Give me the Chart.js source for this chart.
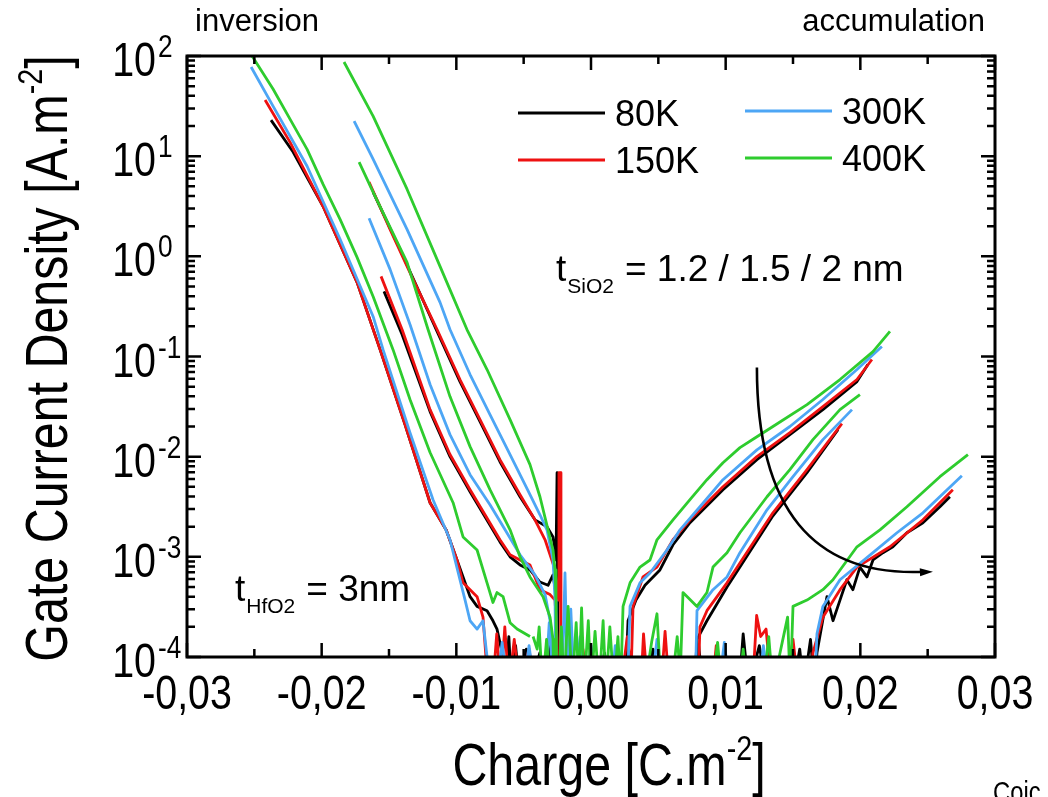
<!DOCTYPE html>
<html>
<head>
<meta charset="utf-8">
<script src="https://cdn.jsdelivr.net/npm/chart.js@4.4.1/dist/chart.umd.min.js"></script>
<style>
  html, body { margin: 0; padding: 0; background: #fff; }
</style>
</head>
<body>
<canvas id="myChart" width="1048" height="797"></canvas>
<script>
// Temperaturas da legenda
const temps = ['80K', '150K', '300K', '400K'];

// Rótulos dos eixos
const xTickValues = [-0.03, -0.02, -0.01, 0, 0.01, 0.02, 0.03];
const xTickLabels = ['-0,03', '-0,02', '-0,01', '0,00', '0,01', '0,02', '0,03'];
const xMinorValues = [-0.025, -0.015, -0.005, 0.005, 0.015, 0.025];
const yTickValues = [1e2, 1e1, 1e0, 1e-1, 1e-2, 1e-3, 1e-4];
const yTickExps = ['2', '1', '0', '-1', '-2', '-3', '-4'];

// Inversão (carga negativa) - grupo A, B, C  [carga, densidade]
const invA_80 = [[-0.02376,22.9],[-0.02212,11.0],[-0.01990,3.16],[-0.01737,0.550],[-0.01566,0.117],[-0.01381,0.0209],[-0.01195,0.00347],[-0.01076,0.00186],[-0.00995,9.3e-4],[-0.00898,4.0e-4],[-0.00846,3.2e-4],[-0.00772,2.9e-4],[-0.00728,2.3e-4],[-0.00698,1.9e-4],[-0.00653,1.0e-4],[-0.00630,5e-5]];
const invA_150 = [[-0.02420,36.3],[-0.02235,13.8],[-0.01990,3.16],[-0.01737,0.550],[-0.01566,0.117],[-0.01381,0.0209],[-0.01195,0.00347],[-0.01076,0.00186],[-0.00995,9.3e-4],[-0.00950,5.5e-4],[-0.00898,4.7e-4],[-0.00846,4.0e-4],[-0.00802,2.5e-4],[-0.00780,1.0e-4],[-0.00770,5e-5]];
const invA_300 = [[-0.02524,77.6],[-0.02361,31.6],[-0.02108,7.94],[-0.01863,1.48],[-0.01618,0.251],[-0.01544,0.117],[-0.01344,0.0174],[-0.01173,0.00372],[-0.01047,0.00148],[-0.00973,5.9e-4],[-0.00935,3.7e-4],[-0.00898,2.3e-4],[-0.00846,1.9e-4],[-0.00802,2.3e-4],[-0.00772,1.0e-4],[-0.00760,5e-5]];
const invA_400 = [[-0.02517,100],[-0.02361,46.8],[-0.02235,23.4],[-0.02108,11.7],[-0.01990,5.25],[-0.01863,2.34],[-0.01737,0.977],[-0.01618,0.398],[-0.01470,0.117],[-0.01344,0.0372],[-0.01195,0.0110],[-0.01024,0.00347],[-0.00950,0.00158],[-0.00846,0.00117],[-0.00772,5.5e-4],[-0.00728,3.5e-4],[-0.00698,4.4e-4],[-0.00653,4.0e-4],[-0.00601,2.2e-4],[-0.00549,1.9e-4],[-0.00453,1.6e-4]];

const invB_80 = [[-0.01537,0.447],[-0.01403,0.166],[-0.01195,0.0282],[-0.01047,0.0100],[-0.00898,0.00447],[-0.00787,0.00251],[-0.00676,0.00141],[-0.00601,0.00100],[-0.00527,8.3e-4],[-0.00453,7.4e-4],[-0.00379,5.6e-4],[-0.00319,5.2e-4],[-0.00282,6.6e-4],[-0.00260,4.2e-4],[-0.00252,1.3e-4],[-0.00248,5e-5]];
const invB_150 = [[-0.01559,0.631],[-0.01403,0.186],[-0.01195,0.0295],[-0.01047,0.0105],[-0.00898,0.00468],[-0.00787,0.00263],[-0.00676,0.00148],[-0.00601,0.00105],[-0.00527,9.3e-4],[-0.00453,8.3e-4],[-0.00379,4.7e-4],[-0.00304,4.2e-4],[-0.00267,3.7e-4],[-0.00252,1.5e-4],[-0.00245,5e-5]];
const invB_300 = [[-0.01648,2.40],[-0.01492,0.741],[-0.01344,0.209],[-0.01195,0.0525],[-0.01047,0.0166],[-0.00898,0.00661],[-0.00750,0.00331],[-0.00638,0.00186],[-0.00527,0.00105],[-0.00416,6.6e-4],[-0.00341,4.2e-4],[-0.00304,2.3e-4],[-0.00282,1.3e-4],[-0.00275,5e-5]];
const invB_400 = [[-0.01722,8.71],[-0.01618,4.37],[-0.01366,0.871],[-0.01210,0.186],[-0.01047,0.0398],[-0.00898,0.0126],[-0.00750,0.00468],[-0.00601,0.00186],[-0.00527,0.00100],[-0.00453,6.3e-4],[-0.00356,4.0e-4],[-0.00304,2.5e-4],[-0.00282,1.5e-4],[-0.00275,5e-5]];

const invC_80 = [[-0.01618,4.37],[-0.01418,1.17],[-0.01143,0.178],[-0.00973,0.0562],[-0.00824,0.0224],[-0.00676,0.00891],[-0.00527,0.00398],[-0.00416,0.00234],[-0.00327,0.00200],[-0.00282,0.00158],[-0.00267,0.00117],[-0.00260,9.3e-4],[-0.00252,0.00692],[-0.00245,5e-5]];
const invC_150 = [[-0.01648,5.50],[-0.01492,1.86],[-0.01321,0.589],[-0.01143,0.186],[-0.00973,0.0589],[-0.00824,0.0234],[-0.00676,0.00933],[-0.00527,0.00417],[-0.00416,0.00234],[-0.00341,0.00148],[-0.00304,0.00105],[-0.00267,7.4e-4],[-0.00245,3.7e-4],[-0.00238,0.00692],[-0.00230,0.00692],[-0.00223,5e-5]];
const invC_300 = [[-0.01759,22.4],[-0.01618,9.33],[-0.01366,1.86],[-0.01121,0.347],[-0.01047,0.186],[-0.00898,0.0661],[-0.00750,0.0263],[-0.00601,0.0105],[-0.00453,0.00417],[-0.00379,0.00263],[-0.00327,0.00186],[-0.00282,9.3e-4],[-0.00267,3.7e-4],[-0.00260,5e-5]];
const invC_400 = [[-0.01834,87.1],[-0.01618,25.1],[-0.01366,4.68],[-0.01121,0.794],[-0.00921,0.186],[-0.00772,0.0741],[-0.00601,0.0234],[-0.00453,0.00832],[-0.00379,0.00398],[-0.00319,0.00186],[-0.00282,0.00117],[-0.00267,7.4e-4],[-0.00260,3.7e-4],[-0.00255,5e-5]];

// Ruído no nível de fundo
const floor_80 = [[-0.00640,5e-5],[-0.00610,1.6e-4],[-0.00590,5e-5],[-0.00560,1.3e-4],[-0.00530,5e-5],[-0.00480,1.2e-4],[-0.00450,5e-5],[-0.00380,1.1e-4],[-0.00350,5e-5],[-0.00300,1.4e-4],[-0.00270,5e-5],[-0.00200,5e-5],[-0.00170,1.1e-4],[-0.00140,5e-5],[0.00050,5e-5],[0.00100,1.1e-4],[0.00140,5e-5],[0.00400,5e-5],[0.00460,1.2e-4],[0.00500,5e-5],[0.00750,5e-5],[0.00800,1.3e-4],[0.00830,5e-5],[0.01100,5e-5],[0.01130,1.7e-4],[0.01170,5e-5],[0.01250,1.3e-4],[0.01300,5e-5],[0.01500,5e-5],[0.01550,1.2e-4],[0.01580,5e-5],[0.01630,1.5e-4],[0.01660,5e-5]];
const floor_150 = [[-0.00730,5e-5],[-0.00700,1.7e-4],[-0.00670,5e-5],[-0.00640,2.0e-4],[-0.00610,5e-5],[-0.00570,1.5e-4],[-0.00530,5e-5],[-0.00460,1.2e-4],[-0.00420,5e-5],[-0.00200,5e-5],[-0.00160,1.4e-4],[-0.00120,5e-5],[-0.00060,1.2e-4],[-0.00020,5e-5],[0.00220,5e-5],[0.00270,1.6e-4],[0.00310,5e-5],[0.00370,5e-5],[0.00390,1.7e-4],[0.00420,5e-5],[0.00520,5e-5],[0.00550,1.8e-4],[0.00580,5e-5],[0.00900,5e-5],[0.00930,1.3e-4],[0.00960,5e-5],[0.01200,5e-5],[0.01230,2.6e-4],[0.01260,1.6e-4],[0.01300,1.9e-4],[0.01340,5e-5],[0.01460,5e-5],[0.01500,1.5e-4],[0.01540,5e-5]];
const floor_300 = [[-0.00700,5e-5],[-0.00660,1.4e-4],[-0.00620,5e-5],[-0.00500,5e-5],[-0.00460,1.3e-4],[-0.00420,5e-5],[-0.00340,5e-5],[-0.00310,2.2e-4],[-0.00280,5e-5],[-0.00215,5e-5],[-0.00193,6.9e-4],[-0.00175,5e-5],[-0.00150,3.0e-4],[-0.00125,5e-5],[-0.00080,1.6e-4],[-0.00040,5e-5],[0.00000,1.3e-4],[0.00040,5e-5],[0.00150,5e-5],[0.00180,1.3e-4],[0.00210,5e-5],[0.00450,5e-5],[0.00490,1.5e-4],[0.00520,5e-5],[0.00950,5e-5],[0.00990,1.4e-4],[0.01030,5e-5],[0.01250,5e-5],[0.01280,1.3e-4],[0.01320,5e-5]];
const floor_400 = [[-0.00430,1.6e-4],[-0.00400,1.2e-4],[-0.00385,2.0e-4],[-0.00360,5e-5],[-0.00330,1.5e-4],[-0.00300,5e-5],[-0.00240,5e-5],[-0.00220,2.0e-4],[-0.00200,5e-5],[-0.00170,3.2e-4],[-0.00140,5e-5],[-0.00110,2.2e-4],[-0.00090,5e-5],[-0.00070,3.1e-4],[-0.00050,5e-5],[-0.00020,2.3e-4],[0.00000,5e-5],[0.00030,1.8e-4],[0.00060,5e-5],[0.00090,2.3e-4],[0.00110,5e-5],[0.00140,2.0e-4],[0.00170,5e-5],[0.00200,1.6e-4],[0.00220,5e-5],[0.00400,5e-5],[0.00450,1.4e-4],[0.00490,2.7e-4],[0.00520,5e-5],[0.00600,5e-5],[0.00640,1.6e-4],[0.00670,5e-5],[0.00900,5e-5],[0.00940,1.4e-4],[0.00970,5e-5],[0.01100,5e-5],[0.01130,1.2e-4],[0.01160,5e-5],[0.01280,5e-5],[0.01320,1.6e-4],[0.01350,5e-5],[0.01420,1.4e-4],[0.01460,2.5e-4],[0.01480,5e-5]];

// Acumulação (carga positiva) - grupo D, E, F
const accD_80 = [[0.00255,5e-5],[0.00275,2.3e-4],[0.00334,3.7e-4],[0.00401,5.2e-4],[0.00512,7.4e-4],[0.00609,0.00132],[0.00735,0.00219],[0.00980,0.00468],[0.01232,0.00933],[0.01477,0.0166],[0.01722,0.0295],[0.01975,0.0562],[0.02056,0.0832]];
const accD_150 = [[0.00295,5e-5],[0.00312,3.2e-4],[0.00386,6.3e-4],[0.00490,7.9e-4],[0.00609,0.00148],[0.00735,0.00234],[0.00980,0.00501],[0.01232,0.0100],[0.01477,0.0174],[0.01722,0.0316],[0.01975,0.0589],[0.02086,0.0933]];
const accD_300 = [[0.00270,5e-5],[0.00290,3.2e-4],[0.00364,5.5e-4],[0.00438,6.9e-4],[0.00564,0.00117],[0.00661,0.00186],[0.00809,0.00316],[0.00980,0.00589],[0.01232,0.0117],[0.01477,0.0200],[0.01722,0.0372],[0.01975,0.0741],[0.02160,0.126]];
const accD_400 = [[0.00220,5e-5],[0.00238,3.2e-4],[0.00290,5.5e-4],[0.00364,7.9e-4],[0.00438,9.3e-4],[0.00490,0.00148],[0.00609,0.00234],[0.00735,0.00372],[0.00861,0.00589],[0.00980,0.00871],[0.01106,0.0123],[0.01232,0.0158],[0.01351,0.0200],[0.01604,0.0331],[0.01849,0.0589],[0.02094,0.112],[0.02220,0.178]];

const accE_80 = [[0.00770,5e-5],[0.00787,1.5e-4],[0.00861,2.3e-4],[0.01010,5.0e-4],[0.01106,7.9e-4],[0.01351,0.00257],[0.01604,0.00692],[0.01834,0.0186]];
const accE_150 = [[0.00795,5e-5],[0.00809,2.0e-4],[0.00861,2.9e-4],[0.01010,5.5e-4],[0.01106,8.7e-4],[0.01351,0.00275],[0.01604,0.00741],[0.01863,0.0214]];
const accE_300 = [[0.00775,5e-5],[0.00787,2.9e-4],[0.00906,4.7e-4],[0.01010,6.3e-4],[0.01106,0.00110],[0.01307,0.00295],[0.01500,0.00631],[0.01722,0.0148],[0.01938,0.0295]];
const accE_400 = [[0.00660,5e-5],[0.00683,4.4e-4],[0.00787,3.2e-4],[0.00861,4.4e-4],[0.00906,7.9e-4],[0.01010,0.00110],[0.01106,0.00174],[0.01307,0.00398],[0.01477,0.00741],[0.01648,0.0148],[0.01849,0.0295],[0.01997,0.0417]];

const accF_80 = [[0.01660,5e-5],[0.01678,1.1e-4],[0.01752,4.0e-4],[0.01797,2.3e-4],[0.01849,3.7e-4],[0.01900,5.9e-4],[0.01945,4.7e-4],[0.01997,7.9e-4],[0.02049,6.3e-4],[0.02094,9.3e-4],[0.02168,0.00110],[0.02242,0.00126],[0.02346,0.00174],[0.02465,0.00219],[0.02591,0.00316],[0.02665,0.00398]];
const accF_150 = [[0.01630,5e-5],[0.01648,1.1e-4],[0.01722,2.5e-4],[0.01849,4.7e-4],[0.01975,7.9e-4],[0.02220,0.00126],[0.02465,0.00234],[0.02687,0.00468]];
const accF_300 = [[0.01660,5e-5],[0.01678,1.7e-4],[0.01722,3.2e-4],[0.01849,5.9e-4],[0.02094,0.00110],[0.02272,0.00174],[0.02465,0.00275],[0.02754,0.00646]];
const accF_400 = [[0.01480,5e-5],[0.01500,3.2e-4],[0.01604,3.7e-4],[0.01722,4.7e-4],[0.01797,5.9e-4],[0.01975,0.00126],[0.02146,0.00186],[0.02346,0.00316],[0.02591,0.00631],[0.02799,0.0105]];

// Seta curva (início, controle, fim) em coordenadas de dados
const arrowStart = [0.01232, 0.0776];
const arrowCtrl = [0.01232, 5.9e-4];
const arrowEnd = [0.02539, 7.1e-4];

const segmentsByTemp = [
  [invA_80, invB_80, invC_80, floor_80, accD_80, accE_80, accF_80],
  [invA_150, invB_150, invC_150, floor_150, accD_150, accE_150, accF_150],
  [invA_300, invB_300, invC_300, floor_300, accD_300, accE_300, accF_300],
  [invA_400, invB_400, invC_400, floor_400, accD_400, accE_400, accF_400]
];

const colors = ['#000000', '#ee1111', '#4da6f5', '#2ecc2e'];
const SANS = '"Liberation Sans", Arial, sans-serif';
const NARROW = 0.82; // compressão horizontal (aspecto de Arial Narrow)

// Junta os segmentos com uma lacuna entre eles
function joinSegments(segs) {
  const out = [];
  segs.forEach(function(seg, i) {
    if (i > 0) out.push({ x: seg[0][0], y: null });
    seg.forEach(function(p) { out.push({ x: p[0], y: p[1] }); });
  });
  return out;
}

const datasets = temps.map(function(t, i) {
  return {
    label: t,
    data: joinSegments(segmentsByTemp[i]),
    borderColor: colors[i],
    backgroundColor: colors[i],
    borderWidth: 2.8,
    borderJoinStyle: 'round',
    pointRadius: 0,
    pointHitRadius: 0,
    spanGaps: false,
    tension: 0,
    order: 4 - i
  };
});

// texto estreito
function narrowText(ctx, text, x, y, size, align) {
  ctx.save();
  ctx.translate(x, y);
  ctx.scale(NARROW, 1);
  ctx.font = size + 'px ' + SANS;
  ctx.textAlign = align;
  ctx.fillText(text, 0, 0);
  ctx.restore();
}

// texto com expoente (estreito)
function supText(ctx, x, y, base, sup, tail, size, supSize, align) {
  ctx.save();
  ctx.translate(x, y);
  ctx.scale(NARROW, 1);
  ctx.font = size + 'px ' + SANS;
  const w1 = ctx.measureText(base).width;
  const w3 = ctx.measureText(tail).width;
  ctx.font = supSize + 'px ' + SANS;
  const w2 = ctx.measureText(sup).width;
  const total = w1 + w2 + w3;
  let x0 = 0;
  if (align === 'center') x0 = -total / 2;
  ctx.textAlign = 'left';
  ctx.font = size + 'px ' + SANS;
  ctx.fillText(base, x0, 0);
  ctx.font = supSize + 'px ' + SANS;
  ctx.fillText(sup, x0 + w1, -size * 0.42);
  ctx.font = size + 'px ' + SANS;
  ctx.fillText(tail, x0 + w1 + w2, 0);
  ctx.restore();
}

// texto com índice
function subText(ctx, x, y, base, sub, tail, size, subSize) {
  ctx.textAlign = 'left';
  ctx.font = size + 'px ' + SANS;
  ctx.fillText(base, x, y);
  const w1 = ctx.measureText(base).width;
  ctx.font = subSize + 'px ' + SANS;
  ctx.fillText(sub, x + w1 + 1, y + 12);
  const w2 = ctx.measureText(sub).width;
  ctx.font = size + 'px ' + SANS;
  ctx.fillText(tail, x + w1 + w2 + 12, y);
}

const decor = {
  id: 'decor',
  afterDatasetsDraw(chart) {
    const ctx = chart.ctx;
    const a = chart.chartArea;
    const xs = chart.scales.x;
    const ys = chart.scales.y;
    ctx.save();
    ctx.fillStyle = '#000';
    ctx.strokeStyle = '#000';

    // seta curva
    const sx = xs.getPixelForValue(arrowStart[0]), sy = ys.getPixelForValue(arrowStart[1]);
    const cx = xs.getPixelForValue(arrowCtrl[0]), cy = ys.getPixelForValue(arrowCtrl[1]);
    const ex = xs.getPixelForValue(arrowEnd[0]), ey = ys.getPixelForValue(arrowEnd[1]);
    ctx.lineWidth = 2.6;
    ctx.beginPath();
    ctx.moveTo(sx, sy);
    ctx.quadraticCurveTo(cx, cy, ex - 8, ey);
    ctx.stroke();
    const ang = Math.atan2(ey - cy, ex - cx);
    ctx.beginPath();
    ctx.moveTo(ex, ey);
    ctx.lineTo(ex - 13 * Math.cos(ang) + 4 * Math.sin(ang), ey - 13 * Math.sin(ang) - 4 * Math.cos(ang));
    ctx.lineTo(ex - 13 * Math.cos(ang) - 4 * Math.sin(ang), ey - 13 * Math.sin(ang) + 4 * Math.cos(ang));
    ctx.closePath();
    ctx.fill();

    // moldura
    ctx.lineWidth = 3;
    ctx.strokeRect(a.left, a.top, a.right - a.left, a.bottom - a.top);

    // marcas do eixo x (para dentro, em cima e embaixo)
    ctx.lineWidth = 2.5;
    ctx.beginPath();
    xTickValues.forEach(function(v) {
      const px = xs.getPixelForValue(v);
      ctx.moveTo(px, a.bottom); ctx.lineTo(px, a.bottom - 14);
      ctx.moveTo(px, a.top); ctx.lineTo(px, a.top + 14);
    });
    xMinorValues.forEach(function(v) {
      const px = xs.getPixelForValue(v);
      ctx.moveTo(px, a.bottom); ctx.lineTo(px, a.bottom - 8);
      ctx.moveTo(px, a.top); ctx.lineTo(px, a.top + 8);
    });
    // marcas do eixo y (log)
    yTickValues.forEach(function(v) {
      const py = ys.getPixelForValue(v);
      ctx.moveTo(a.left, py); ctx.lineTo(a.left + 14, py);
      ctx.moveTo(a.right, py); ctx.lineTo(a.right - 14, py);
      if (v < 100) {
        for (let m = 2; m <= 9; m++) {
          const pm = ys.getPixelForValue(v * m);
          ctx.moveTo(a.left, pm); ctx.lineTo(a.left + 8, pm);
          ctx.moveTo(a.right, pm); ctx.lineTo(a.right - 8, pm);
        }
      }
    });
    ctx.stroke();

    // rótulos do eixo x
    ctx.textBaseline = 'alphabetic';
    xTickValues.forEach(function(v, i) {
      narrowText(ctx, xTickLabels[i], xs.getPixelForValue(v), a.bottom + 52, 48, 'center');
    });

    // rótulos do eixo y
    yTickValues.forEach(function(v, i) {
      const py = ys.getPixelForValue(v);
      narrowText(ctx, '10', a.left - 31, py + 20, 48, 'right');
      narrowText(ctx, yTickExps[i], a.left - 29, py + 1, 32, 'left');
    });

    // títulos dos eixos
    supText(ctx, (a.left + a.right) / 2 + 18, a.bottom + 128, 'Charge [C.m', '-2', ']', 59, 35, 'center');
    ctx.save();
    ctx.translate(67, (a.top + a.bottom) / 2 + 2);
    ctx.rotate(-Math.PI / 2);
    supText(ctx, 0, 0, 'Gate Current Density [A.m', '-2', ']', 59, 35, 'center');
    ctx.restore();

    // textos de canto
    ctx.font = '31px ' + SANS;
    ctx.textAlign = 'left';
    ctx.fillText('inversion', a.left + 8, 31);
    ctx.textAlign = 'right';
    ctx.fillText('accumulation', a.right - 10, 31);
    narrowText(ctx, 'Coic', 993, 802, 29, 'left');

    // anotações de espessura
    subText(ctx, a.left + 369, 281, 't', 'SiO2', '= 1.2 / 1.5 / 2 nm', 37, 21);
    subText(ctx, a.left + 48, 601, 't', 'HfO2', '= 3nm', 37, 21);

    // legenda
    const legPos = [[518, 113], [518, 160], [745, 111], [745, 158]];
    ctx.lineWidth = 3;
    ctx.font = '36px ' + SANS;
    ctx.textAlign = 'left';
    temps.forEach(function(t, i) {
      const p = legPos[i];
      ctx.strokeStyle = colors[i];
      ctx.beginPath();
      ctx.moveTo(p[0], p[1]); ctx.lineTo(p[0] + 87, p[1]);
      ctx.stroke();
      ctx.fillStyle = '#000';
      ctx.fillText(t, p[0] + 97, p[1] + 13);
    });
    ctx.restore();
  }
};

const ctx = document.getElementById('myChart').getContext('2d');
const myChart = new Chart(ctx, {
  type: 'line',
  data: { datasets: datasets },
  options: {
    responsive: false,
    animation: false,
    layout: { padding: { top: 56, right: 53, left: 0, bottom: 0 } },
    plugins: { legend: { display: false }, tooltip: { enabled: false } },
    scales: {
      x: {
        type: 'linear', min: -0.03, max: 0.03,
        ticks: { display: false }, grid: { display: false }, border: { display: false },
        afterFit: function(s) { s.height = 140; }
      },
      y: {
        type: 'logarithmic', min: 1e-4, max: 100,
        ticks: { display: false }, grid: { display: false }, border: { display: false },
        afterFit: function(s) { s.width = 187; }
      }
    }
  },
  plugins: [decor]
});
</script>
</body>
</html>
